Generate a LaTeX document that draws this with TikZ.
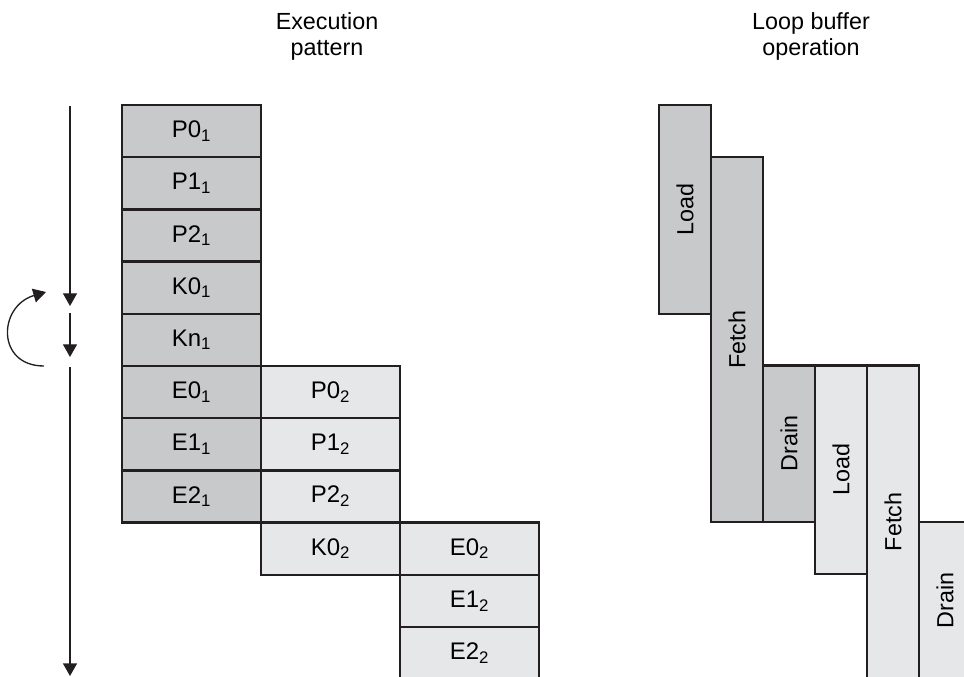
\documentclass[tikz,border=0pt]{standalone}
\usepackage{fontspec}
\setmainfont{Liberation Sans}
\usetikzlibrary{arrows.meta}
\definecolor{lbdark}{HTML}{C8C9CB}
\definecolor{lblight}{HTML}{E6E7E8}
\definecolor{lbline}{HTML}{231F20}

\begin{document}
\begin{tikzpicture}[
    x=0.75pt, y=-0.75pt,
    font=\fontsize{17.5}{19.5}\selectfont, >={Triangle[length=9.5pt,width=10.5pt]},
    cell/.style={rectangle,draw=lbline,line width=1.8pt,inner sep=0pt,
                 minimum width=104.25pt,minimum height=39.15pt,
                 font=\fontsize{18}{20}\selectfont},
    cdark/.style={cell,fill=lbdark},
    clight/.style={cell,fill=lblight},
    bar/.style={rectangle,draw=lbline,line width=1.8pt,inner sep=0pt,
                rotate=90,minimum height=39pt},
    ttl/.style={align=center},
    tl/.style={line width=1pt,color=lbline}]
  \useasboundingbox (0,0) rectangle (964,677);

  % ---------------- titles
  \node[ttl] (ttlexec) at (327,36) {Execution\\pattern};
  \node[ttl] (ttlloop) at (811,36) {Loop buffer\\operation};

  % ---------------- execution pattern, first pass
  \node[cdark] (p01) at (191.5,131.1) {P0\textsubscript{1}};
  \node[cdark] (p11) at (191.5,183.3) {P1\textsubscript{1}};
  \node[cdark] (p21) at (191.5,235.5) {P2\textsubscript{1}};
  \node[cdark] (k01) at (191.5,287.7) {K0\textsubscript{1}};
  \node[cdark] (kn1) at (191.5,339.9) {Kn\textsubscript{1}};
  \node[cdark] (e01) at (191.5,392.1) {E0\textsubscript{1}};
  \node[cdark] (e11) at (191.5,444.3) {E1\textsubscript{1}};
  \node[cdark] (e21) at (191.5,496.5) {E2\textsubscript{1}};

  % ---------------- execution pattern, second pass
  \node[clight] (p02) at (330.5,392.1) {P0\textsubscript{2}};
  \node[clight] (p12) at (330.5,444.3) {P1\textsubscript{2}};
  \node[clight] (p22) at (330.5,496.5) {P2\textsubscript{2}};
  \node[clight] (k02) at (330.5,548.7) {K0\textsubscript{2}};
  \node[clight] (e02) at (469.5,548.7) {E0\textsubscript{2}};
  \node[clight] (e12) at (469.5,600.9) {E1\textsubscript{2}};
  \node[clight] (e22) at (469.5,653.1) {E2\textsubscript{2}};

  % ---------------- time axis and loop-back
  \coordinate (a0) at (70,106);
  \coordinate (a1) at (70,306);
  \coordinate (a2) at (70,313);
  \coordinate (a3) at (70,357);
  \coordinate (a4) at (70,367);
  \coordinate (a5) at (70,676);
  \draw[->,tl] (a0) -- (a1);
  \draw[->,tl] (a2) -- (a3);
  \draw[->,tl] (a4) -- (a5);

  \coordinate (c0) at (44,366);
  \coordinate (c1) at (46,292);
  \draw[->,tl] (c0) .. controls (-4,366) and (-2,306) .. (c1);

  % ---------------- loop buffer operation
  \node[bar,fill=lbdark,minimum width=156.6pt]  (ld1) at (685,209.4) {Load};
  \node[bar,fill=lbdark,minimum width=273.6pt]  (ft1) at (737,339.6) {Fetch};
  \node[bar,fill=lbdark,minimum width=117.45pt] (dr1) at (789,443.7) {Drain};
  \node[bar,fill=lblight,minimum width=156.6pt] (ld2) at (841,469.8) {Load};
  \node[bar,fill=lblight,minimum width=234.9pt] (ft2) at (893,522) {Fetch};
  \node[bar,fill=lblight,minimum width=117.45pt] (dr2) at (945,600.3) {Drain};
\end{tikzpicture}
\end{document}
